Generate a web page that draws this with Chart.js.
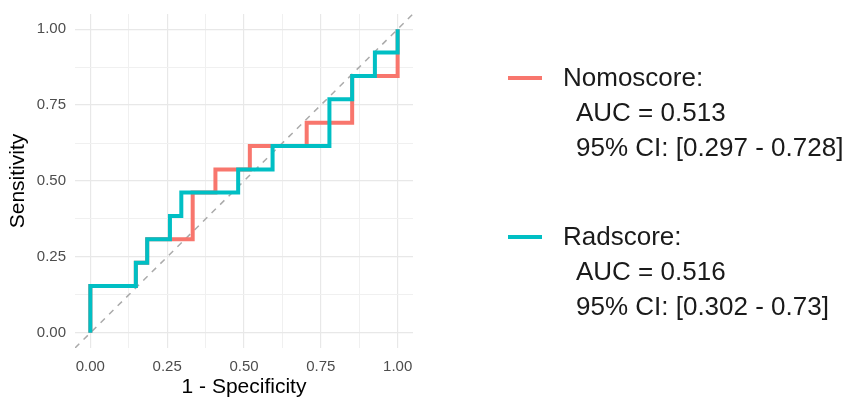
<!DOCTYPE html>
<html lang="en">
<head>
    <meta charset="UTF-8">
    <title>ROC</title>
    <script src="https://cdn.jsdelivr.net/npm/chart.js"></script>
    <style>
        body { margin: 0; background: #fff; font-family: "Liberation Sans", Arial, sans-serif; }
        .wrap { position: relative; width: 857px; height: 403px; }
        .legend-item { position: absolute; left: 508px; color: #1a1a1a; font-size: 26px; line-height: 35px; }
        .legend-item .key { position: absolute; left: 0; top: 16px; width: 34px; height: 4px; }
        .legend-item .txt { position: absolute; left: 55px; top: 0; white-space: nowrap; }
        .legend-item .sub { padding-left: 13px; }
    </style>
</head>
<body>
<div class="wrap">
    <canvas id="roc-chart"></canvas>
    <div class="legend-item" style="top:60px">
        <div class="key" style="background:#F8766D"></div>
        <div class="txt">Nomoscore:<br><span class="sub">AUC = 0.513</span><br><span class="sub">95% CI: [0.297 - 0.728]</span></div>
    </div>
    <div class="legend-item" style="top:219px">
        <div class="key" style="background:#00BFC4"></div>
        <div class="txt">Radscore:<br><span class="sub">AUC = 0.516</span><br><span class="sub">95% CI: [0.302 - 0.73]</span></div>
    </div>
</div>
<script>
// 1 - specificity / sensitivity pairs
const nomoFpr = [0, 0, 0.148, 0.148, 0.185, 0.185, 0.259, 0.333, 0.333, 0.407, 0.407, 0.519, 0.519, 0.704, 0.704, 0.852, 0.852, 1, 1];
const nomoTpr = [0, 0.154, 0.154, 0.231, 0.231, 0.308, 0.308, 0.308, 0.462, 0.462, 0.538, 0.538, 0.615, 0.615, 0.692, 0.692, 0.846, 0.846, 1];
const radFpr = [0, 0, 0.148, 0.148, 0.185, 0.185, 0.259, 0.259, 0.296, 0.296, 0.481, 0.481, 0.593, 0.593, 0.778, 0.778, 0.852, 0.852, 0.926, 0.926, 1, 1];
const radTpr = [0, 0.154, 0.154, 0.231, 0.231, 0.308, 0.308, 0.385, 0.385, 0.462, 0.462, 0.538, 0.538, 0.615, 0.615, 0.769, 0.769, 0.846, 0.846, 0.923, 0.923, 1];
const refLine = [-0.05, 1.05];
const majorTicks = [0, 0.25, 0.5, 0.75, 1];

const toPoints = (xs, ys) => xs.map((x, i) => ({ x: x, y: ys[i] }));
const isMajor = v => majorTicks.some(t => Math.abs(t - v) < 1e-6);

Chart.defaults.font.family = '"Liberation Sans", Arial, sans-serif';

const axis = (title, extra) => Object.assign({
    type: 'linear',
    min: -0.05,
    max: 1.05,
    border: { display: false },
    grid: {
        drawTicks: false,
        color: ctx => isMajor(ctx.tick.value) ? '#e8e8e8' : '#f0f0f0',
        lineWidth: ctx => isMajor(ctx.tick.value) ? 1.2 : 1
    },
    ticks: {
        stepSize: 0.125,
        includeBounds: false,
        autoSkip: false,
        maxRotation: 0,
        color: '#4d4d4d',
        font: { size: 15 },
        callback: v => isMajor(v) ? v.toFixed(2) : ''
    },
    title: { display: true, text: title, color: '#000', font: { size: 21 } }
}, extra);

new Chart(document.getElementById('roc-chart'), {
    type: 'line',
    data: {
        datasets: [
            {
                label: 'Radscore',
                data: toPoints(radFpr, radTpr),
                borderColor: '#00BFC4',
                borderWidth: 4,
                pointRadius: 0,
                fill: false,
                order: 0
            },
            {
                label: 'Nomoscore',
                data: toPoints(nomoFpr, nomoTpr),
                borderColor: '#F8766D',
                borderWidth: 4,
                pointRadius: 0,
                fill: false,
                order: 1
            },
            {
                label: 'ref',
                data: toPoints(refLine, refLine),
                borderColor: '#aaaaaa',
                borderWidth: 1.5,
                borderDash: [6, 6],
                pointRadius: 0,
                fill: false,
                order: 2
            }
        ]
    },
    options: {
        responsive: true,
        maintainAspectRatio: false,
        animation: false,
        layout: { padding: { top: 14, right: 444, bottom: 0, left: 0 } },
        plugins: { legend: { display: false }, tooltip: { enabled: false } },
        scales: {
            x: axis('1 - Specificity', {
                afterFit: s => { s.height = 55; s.paddingLeft = 0; s.paddingRight = 0; }
            }),
            y: axis('Sensitivity', {
                afterFit: s => { s.width = 75; s.paddingTop = 0; s.paddingBottom = 0; }
            })
        }
    }
});
// tick / title padding
const ch = Chart.getChart('roc-chart');
ch.options.scales.x.ticks.padding = 10;
ch.options.scales.x.title.padding = { top: 0, bottom: 3 };
ch.options.scales.y.ticks.padding = 9;
ch.options.scales.y.title.padding = { top: 6, bottom: 0 };
ch.update();
</script>
</body>
</html>
